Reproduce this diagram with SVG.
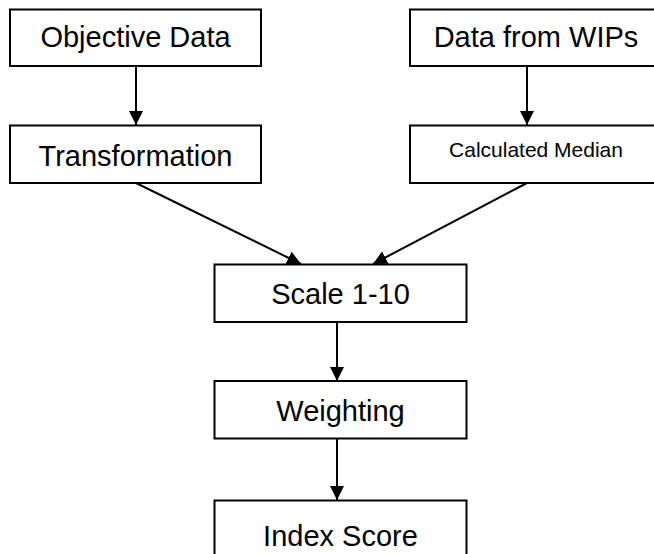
<svg xmlns="http://www.w3.org/2000/svg" width="654" height="554" viewBox="0 0 654 554">
  <style>
    .box { fill: #ffffff; stroke: #000000; stroke-width: 2; }
    .lbl { font-family: "Liberation Sans", Arial, sans-serif; font-size: 29px; fill: #000000; text-anchor: middle; }
    .small { font-size: 21px; }
    .edge { stroke: #000000; stroke-width: 2; fill: none; marker-end: url(#arrow); }
  </style>
  <defs>
    <marker id="arrow" markerUnits="userSpaceOnUse" markerWidth="14" markerHeight="14" refX="14" refY="7" orient="auto">
      <path d="M0,0 L14,7 L0,14 z" fill="#000000"/>
    </marker>
  </defs>
  <rect width="654" height="554" fill="#ffffff"/>

  <g id="connectors">
    <line class="edge" x1="136" y1="66" x2="136" y2="125"/>
    <line class="edge" x1="527" y1="66" x2="527" y2="125"/>
    <line class="edge" x1="136" y1="183" x2="301" y2="264"/>
    <line class="edge" x1="527" y1="183" x2="373" y2="264"/>
    <line class="edge" x1="337" y1="322" x2="337" y2="381"/>
    <line class="edge" x1="337" y1="439" x2="337" y2="500"/>
  </g>

  <g id="objective-data">
    <rect class="box" x="10" y="9.5" width="251" height="56.5"/>
    <text class="lbl" x="135.5" y="46.5">Objective Data</text>
  </g>
  <g id="data-from-wips">
    <rect class="box" x="410" y="9.5" width="251" height="56.5"/>
    <text class="lbl" x="536" y="46.5">Data from WIPs</text>
  </g>
  <g id="transformation">
    <rect class="box" x="10" y="125.5" width="251" height="57.5"/>
    <text class="lbl" x="135.5" y="165.5">Transformation</text>
  </g>
  <g id="calculated-median">
    <rect class="box" x="410" y="125.5" width="251" height="57.5"/>
    <text class="lbl small" x="536" y="157.3">Calculated Median</text>
  </g>
  <g id="scale">
    <rect class="box" x="214.5" y="264.5" width="252" height="57.5"/>
    <text class="lbl" x="340.5" y="304">Scale 1-10</text>
  </g>
  <g id="weighting">
    <rect class="box" x="214.5" y="381" width="252" height="57.5"/>
    <text class="lbl" x="340.5" y="420.5">Weighting</text>
  </g>
  <g id="index-score">
    <rect class="box" x="214.5" y="500.5" width="252" height="57.5"/>
    <text class="lbl" x="340.5" y="546">Index Score</text>
  </g>
</svg>
